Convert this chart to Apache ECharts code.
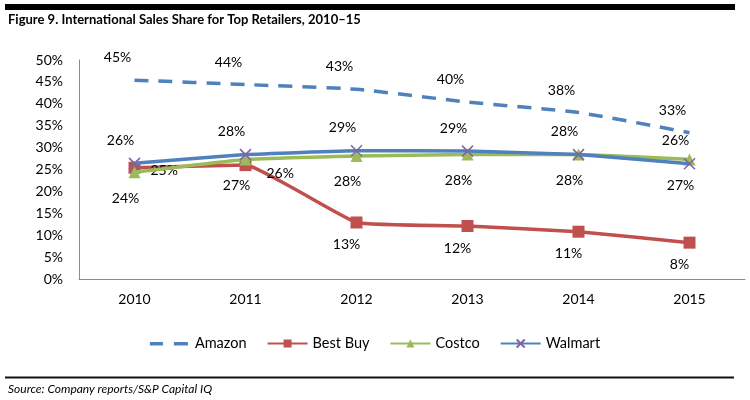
<!DOCTYPE html>
<html><head><meta charset="utf-8">
<script src="https://cdn.jsdelivr.net/npm/echarts@6/dist/echarts.min.js"></script>
<style>html,body{margin:0;padding:0;background:#fff}#c{width:750px;height:400px}</style>
</head><body><div id="c"></div>
<script>
const years = ['2010','2011','2012','2013','2014','2015'];
const amazon  = [45.4, 44.4, 43.3, 40.4, 38.0, 33.4];
const bestBuy = [25.4, 26.0, 12.9, 12.1, 10.8, 8.3];
const costco  = [24.4, 27.3, 28.1, 28.4, 28.4, 27.3];
const walmart = [26.4, 28.4, 29.3, 29.2, 28.4, 26.3];
const yTicks = [0,5,10,15,20,25,30,35,40,45,50];

const FONT = 'Lato, "Open Sans", sans-serif';
const lbl = (pos, dist, offset) => ({
  show: true, position: pos, distance: dist, offset: offset || [0, 0],
  color: '#000', fontSize: 14, fontFamily: FONT,
  formatter: p => Math.round(p.value) + '%'
});

const bbData = bestBuy.map((v, i) => {
  if (i === 0) return {value: v, label: {position: 'right', distance: 10, offset: [0, 3]}};
  if (i === 1) return {value: v, label: {position: 'right', distance: 15, offset: [0, 8]}};
  return v;
});

const chart = echarts.init(document.getElementById('c'), null, {renderer: 'canvas'});
chart.setOption({
  animation: false,
  backgroundColor: '#fff',
  textStyle: {fontFamily: FONT},
  graphic: [
    {type: 'rect', shape: {x: 5, y: 4, width: 730, height: 6}, style: {fill: '#000'}},
    {type: 'text', left: 8, top: 13, style: {text: 'Figure 9. International Sales Share for Top Retailers, 2010\u201315', font: 'bold 13px ' + FONT, fill: '#000'}},
    {type: 'rect', shape: {x: 5, y: 376.5, width: 729, height: 2}, style: {fill: '#111'}},
    {type: 'text', left: 8, top: 383, style: {text: 'Source: Company reports/S&P Capital IQ', font: 'italic 12px ' + FONT, fill: '#000'}}
  ],
  legend: {
    top: 331, left: 'center', itemGap: 20, itemWidth: 40, itemHeight: 10,
    textStyle: {fontSize: 14.5, color: '#000', fontFamily: FONT},
    data: [
      {name: 'Amazon', icon: 'path://M0,0h0.01v0.01h-0.01z M0,3.5h13v3.5h-13z M24,3.5h14v3.5h-14z M39.99,9.99h0.01v0.01h-0.01z', itemStyle: {color: '#4F81BD'}},
      'Best Buy', 'Costco', 'Walmart'
    ]
  },
  grid: {left: 79, top: 60, width: 666, height: 219, containLabel: false},
  xAxis: {
    type: 'category', data: years, boundaryGap: true,
    axisLine: {lineStyle: {color: '#8c8c8c', width: 1}},
    axisTick: {show: false},
    axisLabel: {color: '#000', fontSize: 14, margin: 13, fontFamily: FONT}
  },
  yAxis: {
    type: 'value', min: yTicks[0], max: yTicks[yTicks.length-1], interval: 5,
    axisLine: {show: true, lineStyle: {color: '#8c8c8c', width: 1}},
    axisTick: {show: false},
    splitLine: {show: false},
    axisLabel: {color: '#000', fontSize: 14, margin: 16, fontFamily: FONT, formatter: v => v + '%'}
  },
  series: [
    {name: 'Amazon', type: 'line', data: amazon, symbol: 'circle', symbolSize: 1, smooth: 0.2,
     lineStyle: {color: '#4F81BD', width: 3.5, type: [14, 10]},
     itemStyle: {color: 'rgba(0,0,0,0)'},
     label: lbl('top', 15, [-17, 0]), z: 3},
    {name: 'Best Buy', type: 'line', data: bbData, symbol: 'rect', symbolSize: 12, smooth: 0.1,
     lineStyle: {color: '#C0504D', width: 3.5}, itemStyle: {color: '#C0504D'},
     label: lbl('bottom', 9, [-10, 0]), z: 4},
    {name: 'Costco', type: 'line', data: costco, symbol: 'triangle', symbolSize: 12, smooth: 0.1,
     lineStyle: {color: '#9BBB59', width: 3.5}, itemStyle: {color: '#9BBB59'},
     label: lbl('bottom', 13, [-9, 0]), z: 5},
    {name: 'Walmart', type: 'line', data: walmart, symbol: 'path://M0,0 L10,10 M10,0 L0,10', symbolSize: 11, smooth: 0.1,
     lineStyle: {color: '#4F81BD', width: 3.5},
     itemStyle: {color: 'none', borderColor: '#8064A2', borderWidth: 1.5},
     label: lbl('top', 8, [-14, 0]), z: 6}
  ]
});
</script>
</body></html>
